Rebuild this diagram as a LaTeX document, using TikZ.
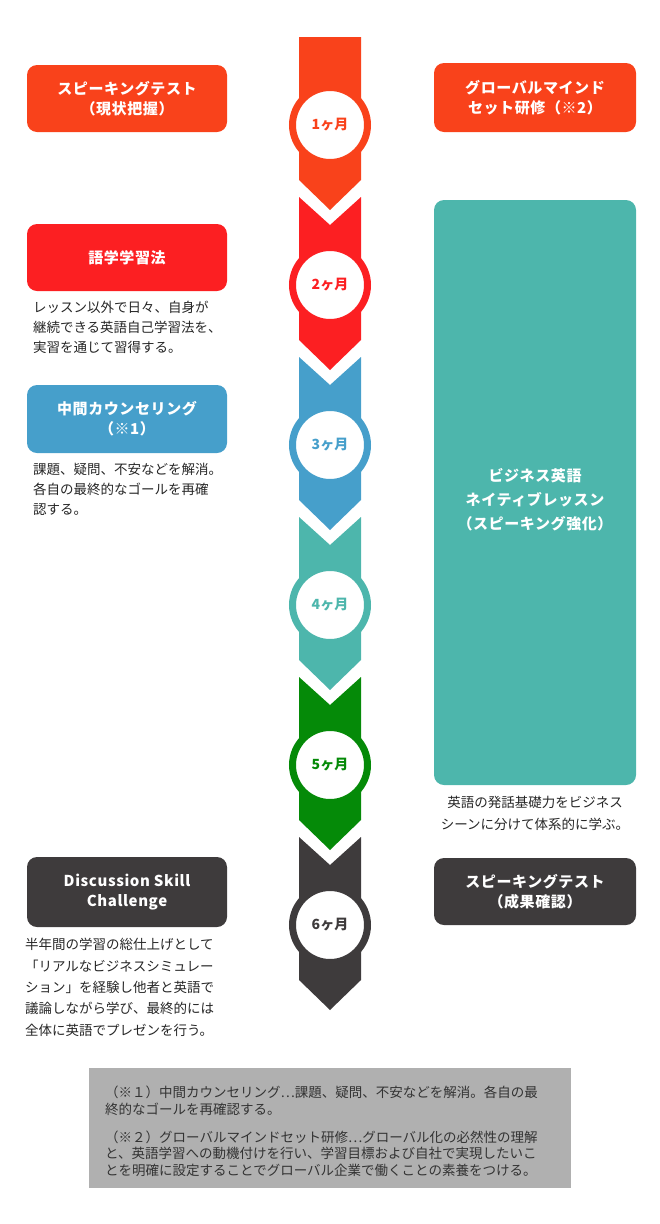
\documentclass[tikz,border=0pt]{standalone}
\usepackage{fontspec}
\setmainfont{Noto Sans CJK JP}
\usetikzlibrary{positioning}

\definecolor{monthA}{HTML}{F9421B}
\definecolor{monthB}{HTML}{FC1F22}
\definecolor{monthC}{HTML}{469FCB}
\definecolor{monthD}{HTML}{4DB6AC}
\definecolor{monthE}{HTML}{058A08}
\definecolor{monthF}{HTML}{3E3B3C}
\definecolor{noteGray}{HTML}{B0B0B0}

\begin{document}
\begin{tikzpicture}[x=1pt,y=-1pt,
  box/.style={rounded corners=10pt, minimum width=200pt, text=white, align=center, inner sep=0pt, font=\fontsize{15}{20}\selectfont\bfseries\addfontfeature{LetterSpace=4}},
  month/.style={circle, fill=white, line width=7pt, minimum size=75pt, inner sep=0pt, font=\fontsize{14}{14}\selectfont\bfseries},
  caption/.style={inner sep=0pt, text=black!85, font=\fontsize{13.5}{20}\selectfont}]
\useasboundingbox (0,0) rectangle (660,1224);

\foreach \c [count=\k] in {monthA,monthB,monthC,monthD,monthE,monthF} {
  \pgfmathsetmacro\yo{37+160*(\k-1)}
  \ifnum\k=1
    \fill[\c] (299,\yo) -- (361,\yo) -- (361,\yo+143) -- (330,\yo+173) -- (299,\yo+143) -- cycle;
  \else
    \fill[\c] (299,\yo) -- (330,\yo+28) -- (361,\yo) -- (361,\yo+143) -- (330,\yo+173) -- (299,\yo+143) -- cycle;
  \fi
  \node[month, draw=\c, text=\c] (month\k) at (330,\yo+88) {\k ヶ月};
}

\node[box, fill=monthA, minimum height=67pt] (testA) at (127,98.5) {スピーキングテスト\\（現状把握）};
\node[box, fill=monthB, minimum height=67pt] (method) at (127,257.5) {語学学習法};
\node[box, fill=monthC, minimum height=68pt] (counsel) at (127,419) {中間カウンセリング\\（※1）};
\node[box, fill=monthF, minimum height=70pt] (discuss) at (127,892) {Discussion Skill\\Challenge};

\node[box, fill=monthA, minimum width=202pt, minimum height=69pt] (mindset) at (535,97.5) {グローバルマインド\\セット研修（※2）};
\node[box, fill=monthD, minimum width=202pt, minimum height=585pt] (native) at (535,492.5) {};
\node[box, font=\fontsize{15}{24}\selectfont\bfseries\addfontfeature{LetterSpace=4}] (nativetitle) at ([yshift=-7pt]native.center) {ビジネス英語\\ネイティブレッスン\\（スピーキング強化）};
\node[box, fill=monthF, minimum width=202pt, minimum height=67pt] (testB) at (535,891.5) {スピーキングテスト\\（成果確認）};

\node[caption, anchor=north west, align=left] (methodtxt) at ([xshift=6pt,yshift=-10pt]method.south west) {レッスン以外で日々、自身が\\継続できる英語自己学習法を、\\実習を通じて習得する。};
\node[caption, anchor=north west, align=left] (counseltxt) at ([xshift=6pt,yshift=-10pt]counsel.south west) {課題、疑問、不安などを解消。\\各自の最終的なゴールを再確\\認する。};
\node[caption, anchor=north west, align=left, font=\fontsize{13.5}{21.3}\selectfont] (discusstxt) at ([xshift=-2pt,yshift=-11pt]discuss.south west) {半年間の学習の総仕上げとして\\「リアルなビジネスシミュレー\\ション」を経験し他者と英語で\\議論しながら学び、最終的には\\全体に英語でプレゼンを行う。};
\node[caption, anchor=north, align=center, font=\fontsize{13.5}{22}\selectfont] (nativetxt) at ([yshift=-11pt]native.south) {英語の発話基礎力をビジネス\\シーンに分けて体系的に学ぶ。};

\node[fill=noteGray, minimum width=482pt, minimum height=120pt, inner sep=0pt, anchor=north west] (notes) at (89,1068) {};
\node[caption, anchor=north west, align=left, text=black!80, font=\fontsize{13.5}{16.5}\selectfont] (notestxt) at ([xshift=16pt,yshift=-18pt]notes.north west) {（※１）中間カウンセリング…課題、疑問、不安などを解消。各自の最\\終的なゴールを再確認する。\\[11.5pt]（※２）グローバルマインドセット研修…グローバル化の必然性の理解\\と、英語学習への動機付けを行い、学習目標および自社で実現したいこ\\とを明確に設定することでグローバル企業で働くことの素養をつける。};
\end{tikzpicture}
\end{document}
